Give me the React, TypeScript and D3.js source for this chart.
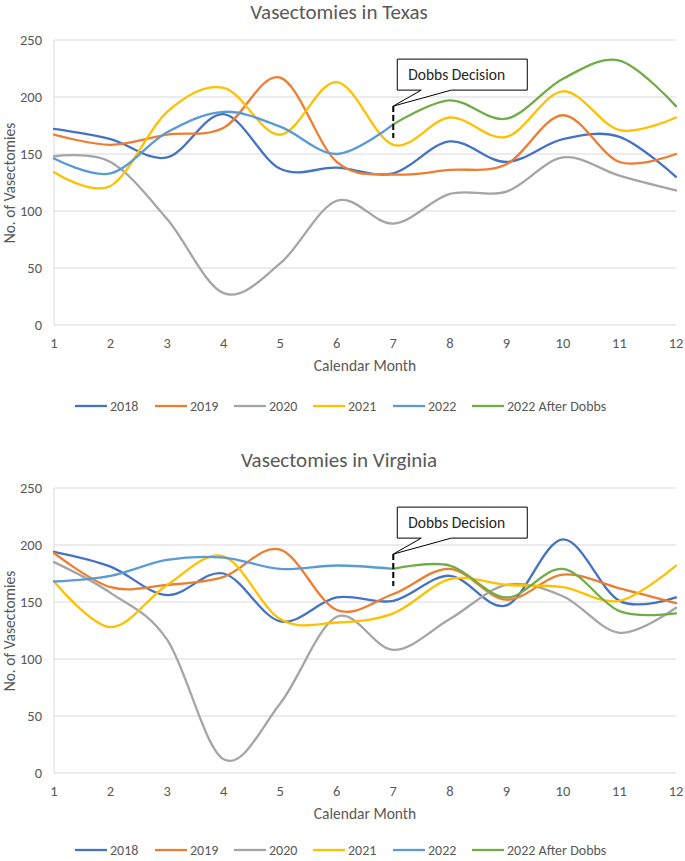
import React from "react";
import * as d3 from "d3";

const months = [1, 2, 3, 4, 5, 6, 7, 8, 9, 10, 11, 12];
const yTicks = [0, 50, 100, 150, 200, 250];
const seriesNames = ["2018", "2019", "2020", "2021", "2022", "2022 After Dobbs"];
const seriesColors = ["#4472C4", "#ED7D31", "#A5A5A5", "#FFC000", "#5B9BD5", "#70AD47"];

// Texas
const tx2018 = [172, 163, 147, 185, 137, 138, 133, 161, 143, 163, 165, 130];
const tx2019 = [167, 158, 167, 173, 217, 143, 132, 136, 141, 184, 143, 150];
const tx2020 = [148, 143, 93, 28, 54, 109, 89, 115, 117, 147, 131, 118];
const tx2021 = [134, 122, 187, 208, 167, 213, 158, 182, 165, 205, 171, 182];
const tx2022 = [146, 133, 169, 187, 174, 150, 176];
const tx2022After = [176, 197, 181, 216, 232, 192];

// Virginia
const va2018 = [194, 181, 156, 175, 133, 154, 151, 173, 147, 205, 151, 154];
const va2019 = [193, 163, 165, 172, 196, 143, 157, 179, 152, 174, 162, 149];
const va2020 = [185, 158, 117, 12, 61, 137, 108, 135, 165, 155, 123, 145];
const va2021 = [168, 128, 165, 190, 135, 132, 140, 170, 165, 163, 151, 182];
const va2022 = [168, 173, 187, 189, 179, 182, 179];
const va2022After = [179, 182, 154, 179, 142, 140];

const dobbsMonth = 7;
const dobbsTop = 192;
const dobbsBottom = 164;

const FONT = "Calibri, Carlito, Lato, 'Open Sans', sans-serif";
const TEXT = "#595959";

type Series = { name: string; color: string; xs: number[]; ys: number[] };

function buildSeries(a: number[], b: number[], c: number[], d: number[], e: number[], f: number[]): Series[] {
  const arrs = [a, b, c, d, e, f];
  return arrs.map((vals, i) => ({
    name: seriesNames[i],
    color: seriesColors[i],
    xs: i === 5 ? months.slice(6, 6 + vals.length) : months.slice(0, vals.length),
    ys: vals,
  }));
}

function Chart({ title, series, top, legendOffset }: { title: string; series: Series[]; top: number; legendOffset: number }) {
  const x = d3.scaleLinear().domain([1, 12]).range([54, 676]);
  const y = d3.scaleLinear().domain([0, 250]).range([top + 325, top + 40]);
  const line = d3
    .line<[number, number]>()
    .x((d) => x(d[0]))
    .y((d) => y(d[1]))
    .curve(d3.curveCardinal.tension(0));

  const dx = x(dobbsMonth);
  const tipY = y(dobbsTop);
  const boxX = dx + 4;
  const boxY = tipY - 47;
  const boxW = 130;
  const boxH = 31;

  const legendY = top + legendOffset;
  const legendX = [75, 155, 234, 313, 393, 472];

  return (
    <g>
      <text x={339} y={top + 19} textAnchor="middle" fontFamily={FONT} fontSize={21} fill={TEXT}>
        {title}
      </text>
      {yTicks.map((t) => (
        <g key={t}>
          {t > 0 && <line x1={54} x2={676} y1={y(t)} y2={y(t)} stroke="#D9D9D9" strokeWidth={1} />}
          <text x={42} y={y(t) + 5} textAnchor="end" fontFamily={FONT} fontSize={14.5} fill={TEXT}>
            {t}
          </text>
        </g>
      ))}
      <line x1={54} x2={54} y1={y(250)} y2={y(0)} stroke="#D9D9D9" strokeWidth={1} />
      <line x1={54} x2={676} y1={y(0)} y2={y(0)} stroke="#D9D9D9" strokeWidth={1} />
      {months.map((m) => (
        <text key={m} x={x(m)} y={top + 348} textAnchor="middle" fontFamily={FONT} fontSize={14.5} fill={TEXT}>
          {m}
        </text>
      ))}
      <text x={365} y={top + 371} textAnchor="middle" fontFamily={FONT} fontSize={15.5} fill={TEXT}>
        Calendar Month
      </text>
      <text
        transform={`translate(15, ${top + 183}) rotate(-90)`}
        textAnchor="middle"
        fontFamily={FONT}
        fontSize={15.5}
        fill={TEXT}
      >
        No. of Vasectomies
      </text>
      {series.map((s) => (
        <path
          key={s.name}
          d={line(s.xs.map((v, i) => [v, s.ys[i]] as [number, number])) || ""}
          fill="none"
          stroke={s.color}
          strokeWidth={2.3}
          strokeLinecap="round"
        />
      ))}
      <line x1={dx} x2={dx} y1={tipY} y2={y(dobbsBottom)} stroke="#000" strokeWidth={2} strokeDasharray="6,3" />
      <path
        d={`M${boxX},${boxY} H${boxX + boxW} V${boxY + boxH} H${boxX + 54} L${dx},${tipY} L${boxX + 24},${boxY + boxH} H${boxX} Z`}
        fill="#fff"
        stroke="#000"
        strokeWidth={1}
      />
      <text x={boxX + 11} y={boxY + 21} fontFamily={FONT} fontSize={15.5} fill="#262626">
        Dobbs Decision
      </text>
      {series.map((s, i) => (
        <g key={s.name}>
          <line x1={legendX[i]} x2={legendX[i] + 32} y1={legendY} y2={legendY} stroke={s.color} strokeWidth={2.3} />
          <text x={legendX[i] + 35} y={legendY + 5} fontFamily={FONT} fontSize={14} fill={TEXT}>
            {s.name}
          </text>
        </g>
      ))}
    </g>
  );
}

export default function App() {
  const texas = buildSeries(tx2018, tx2019, tx2020, tx2021, tx2022, tx2022After);
  const virginia = buildSeries(va2018, va2019, va2020, va2021, va2022, va2022After);
  return (
    <div style={{ position: "absolute", left: 0, top: 0 }}>
      <svg width={685} height={861} style={{ display: "block", background: "#fff" }}>
        <rect width={685} height={861} fill="#fff" />
        <Chart title="Vasectomies in Texas" series={texas} top={0} legendOffset={406} />
        <Chart title="Vasectomies in Virginia" series={virginia} top={448} legendOffset={402} />
      </svg>
    </div>
  );
}
